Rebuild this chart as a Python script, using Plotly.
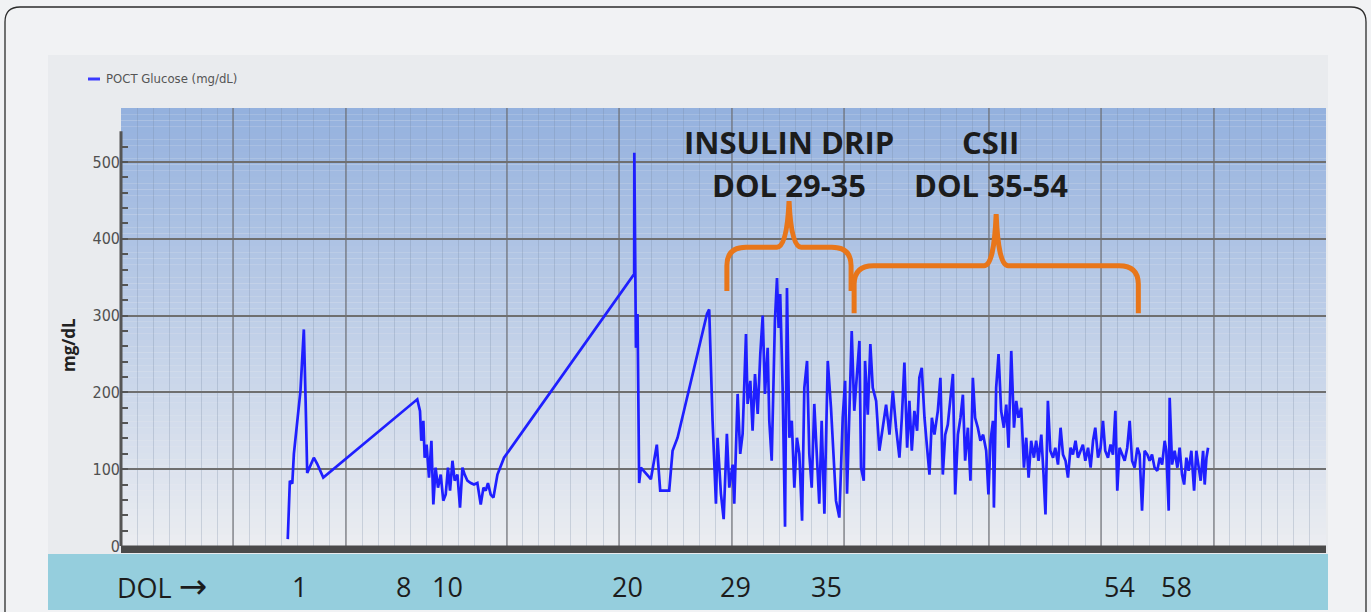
import plotly.graph_objects as go
from datetime import datetime, timedelta

# ---------------- data ----------------
BASE = datetime(2018, 8, 15)   # day offsets below are relative to this date

t_days = [
    3.38, 3.51, 3.66, 3.76, 4.17, 4.38, 4.49, 4.59, 5.00, 5.21, 5.59,
    11.44, 11.61, 11.69, 11.82, 11.90, 12.02, 12.17, 12.32, 12.44, 12.58, 12.73,
    12.90, 13.06, 13.21, 13.35, 13.48, 13.63, 13.77, 13.94, 14.10, 14.25, 14.39,
    14.56, 14.77, 14.97, 15.18, 15.39, 15.56, 15.70, 15.84, 16.01, 16.18, 16.43, 16.84,
    24.94, 24.95, 25.00, 25.05, 25.15, 25.25, 25.36, 25.98, 26.35, 26.56, 27.12,
    27.33, 27.64, 29.47, 29.61,
    29.82, 30.03, 30.13, 30.34, 30.51, 30.71, 30.86, 31.07, 31.17, 31.38, 31.54,
    31.69, 31.90, 32.00, 32.17, 32.31, 32.46, 32.63, 32.79, 32.94, 33.08, 33.25,
    33.35, 33.50, 33.62, 33.70, 33.83, 33.93, 34.03, 34.18, 34.33, 34.45, 34.60,
    34.75, 34.91, 35.07, 35.22, 35.39, 35.53, 35.70, 35.84, 35.99, 36.15, 36.32,
    36.46, 36.61, 36.78, 36.99, 37.19, 37.50, 37.71, 37.92, 38.07, 38.19, 38.33,
    38.48, 38.64, 38.81, 38.96, 39.06, 39.23, 39.31, 39.48, 39.64, 39.79, 40.00,
    40.20, 40.41, 40.62, 40.83, 41.04, 41.24, 41.45, 41.60, 41.76, 41.93, 42.07,
    42.22, 42.38, 42.55, 42.69, 42.84, 43.01, 43.17, 43.32, 43.47, 43.63, 43.84,
    44.00, 44.15, 44.30, 44.46, 44.63, 44.78, 44.92, 45.09, 45.25, 45.40, 45.54,
    45.71, 45.87, 46.02, 46.16, 46.33, 46.49, 46.66, 46.85, 46.99, 47.12, 47.27,
    47.33, 47.47, 47.62, 47.78, 47.95, 48.10, 48.24, 48.41, 48.58, 48.72, 48.86,
    49.03, 49.20, 49.34, 49.49, 49.65, 49.82, 49.96, 50.11, 50.28, 50.42, 50.54,
    50.69, 50.84, 51.01, 51.15, 51.32, 51.48, 51.63, 51.79, 51.94, 52.10, 52.25,
    52.41, 52.56, 52.72, 52.87, 53.02, 53.19, 53.35, 53.50, 53.64, 53.81, 53.97,
    54.12, 54.26, 54.43, 54.59, 54.74, 54.89, 55.01, 55.15, 55.30, 55.47, 55.63,
    55.78, 55.93, 56.09, 56.26, 56.40, 56.55, 56.71, 56.88, 57.02, 57.17, 57.33,
    57.50, 57.65, 57.80, 57.96, 58.06, 58.21, 58.27, 58.42, 58.58, 58.75, 58.89,
    59.04, 59.17, 59.31, 59.45, 59.62, 59.79, 59.93, 60.08, 60.20, 60.35, 60.45,
    60.56, 60.66,
]

glucose = [
    9, 85, 81, 120, 202, 282, 189, 95, 115, 107, 89,
    191, 176, 137, 163, 115, 132, 89, 137, 54, 102, 76,
    93, 59, 67, 102, 72, 111, 85, 93, 50, 102, 93,
    85, 82, 80, 82, 54, 76, 72, 82, 67, 63, 93, 115,
    354, 512, 367, 258, 302, 82, 102, 87, 132, 72, 72,
    124, 141, 302, 308,
    163, 55, 141, 68, 35, 146, 76, 106, 55, 198, 120,
    146, 276, 185, 215, 150, 224, 172, 250, 300, 198, 258,
    163, 111, 250, 293, 349, 284, 328, 206, 25, 336, 141,
    163, 76, 141, 120, 33, 206, 241, 120, 76, 185, 120,
    55, 163, 42, 241, 180, 59, 37, 167, 215, 68, 180,
    280, 176, 232, 267, 102, 85, 241, 171, 263, 206, 189,
    124, 154, 184, 145, 202, 154, 115, 167, 239, 128, 189,
    124, 176, 150, 219, 232, 167, 128, 93, 167, 145, 176,
    219, 93, 145, 158, 189, 224, 67, 145, 167, 197, 111,
    154, 85, 219, 167, 154, 137, 145, 124, 67, 137, 163,
    50, 206, 250, 176, 154, 184, 128, 254, 154, 189, 167,
    180, 102, 141, 89, 137, 115, 137, 111, 145, 93, 41,
    189, 124, 115, 128, 106, 154, 119, 111, 89, 128, 119,
    137, 115, 124, 132, 111, 128, 102, 137, 154, 115, 128,
    163, 124, 115, 132, 119, 176, 72, 128, 119, 111, 128,
    163, 111, 102, 128, 119, 46, 124, 119, 111, 119, 102,
    98, 115, 106, 137, 124, 46, 193, 106, 124, 102, 128,
    93, 80, 115, 98, 124, 72, 124, 102, 85, 124, 80,
    115, 128,
]

series_name = "POCT Glucose (mg/dL)"
y_ticks = [0, 100, 200, 300, 400, 500]
y_minor_ticks = [v for v in range(20, 540, 20) if v % 100]
major_grid_days = [0, 7, 17, 24, 31, 38, 47, 54, 61]   # Aug15, Aug22, Sep1, ... Oct15

# bottom-strip DOL labels (hand-placed in the original) and their day positions
dol_labels = ["1", "8", "10", "20", "29", "35", "54", "58"]
dol_label_days = [4.11, 10.59, 13.33, 24.55, 31.27, 36.88, 55.14, 58.69]

# bracket annotations: (text line 1, text line 2, centre day)
insulin_text = ("INSULIN DRIP", "DOL 29-35", 34.58)
csii_text = ("CSII", "DOL 35-54", 47.12)

# ---------------- helpers ----------------
def day(d):
    return BASE + timedelta(days=d)

def dp(d):
    return day(d).strftime("%Y-%m-%d_%H:%M:%S")

W, H = 1371, 612
L, R, T, B = 121, 1326, 108, 547
YMIN, YMAX = -1.3, 570.3

def px(x):
    return (x - L) / (R - L)

def py(y):
    return (B - y) / (B - T)

shapes = []
# outer rounded frame
shapes.append(dict(
    type="path", xref="paper", yref="paper", layer="below",
    path=(f"M {px(5)},{py(640)} L {px(5)},{py(22)} Q {px(5)},{py(7)} {px(20)},{py(7)} "
          f"L {px(1351)},{py(7)} Q {px(1366)},{py(7)} {px(1366)},{py(22)} L {px(1366)},{py(640)}"),
    line=dict(color="#2b2b2b", width=1.3), fillcolor="#f1f2f4"))
# inner chart panel
shapes.append(dict(type="rect", xref="paper", yref="paper", layer="below",
                   x0=px(48), x1=px(1328), y0=py(555), y1=py(55),
                   fillcolor="#e9ebee", line=dict(width=0)))
# gradient plot background
N = 70
top = (148, 177, 222)
bot = (235, 237, 241)
for i in range(N):
    f = i / (N - 1)
    c = tuple(int(round(top[k] + (bot[k] - top[k]) * f)) for k in range(3))
    shapes.append(dict(type="rect", xref="paper", yref="paper", layer="below",
                       x0=0, x1=1, y0=1 - (i + 1) / N, y1=1 - i / N,
                       fillcolor=f"rgb{c}", line=dict(width=0)))
# teal DOL strip
shapes.append(dict(type="rect", xref="paper", yref="paper", layer="below",
                   x0=px(48), x1=px(1328), y0=py(610), y1=py(554),
                   fillcolor="#95cedd", line=dict(width=0)))
# thick bottom axis bar
shapes.append(dict(type="rect", xref="paper", yref="paper", layer="above",
                   x0=0, x1=1, y0=py(553), y1=py(545.5),
                   fillcolor="#4a4a4a", line=dict(width=0)))
# y axis line
shapes.append(dict(type="line", xref="paper", yref="y", layer="above",
                   x0=0, x1=0, y0=0, y1=540, line=dict(color="#555555", width=3)))
# legend swatch
shapes.append(dict(type="line", xref="paper", yref="paper",
                   x0=px(88), x1=px(100), y0=py(79), y1=py(79),
                   line=dict(color="#3a3aff", width=3)))

# curly braces (in data units: day, mg/dL)
orange = "#e8761a"
def brace(x0, xm, x1, yb, yh, ypk):
    return (f"M {dp(x0)},{yb} L {dp(x0)},{yh - 24} Q {dp(x0)},{yh} {dp(x0 + 1.2)},{yh} "
            f"L {dp(xm - 0.75)},{yh} Q {dp(xm - 0.13)},{yh} {dp(xm)},{ypk} "
            f"Q {dp(xm + 0.13)},{yh} {dp(xm + 0.75)},{yh} "
            f"L {dp(x1 - 1.2)},{yh} Q {dp(x1)},{yh} {dp(x1)},{yh - 24} L {dp(x1)},{yb}")

shapes.append(dict(type="path", xref="x", yref="y", layer="above",
                   path=brace(30.71, 34.58, 38.44, 332, 389, 449),
                   line=dict(color=orange, width=5)))
shapes.append(dict(type="path", xref="x", yref="y", layer="above",
                   path=brace(38.63, 47.47, 56.32, 303, 365, 432),
                   line=dict(color=orange, width=5)))

fig = go.Figure()
fig.add_trace(go.Scatter(
    x=[day(d) for d in t_days], y=glucose, mode="lines", name=series_name,
    line=dict(color="#1f1fff", width=2.7), showlegend=False))

narrow = "Liberation Sans Narrow, Arial Narrow, DejaVu Sans Condensed, sans-serif"
bold_font = dict(family="Open Sans, Noto Sans, sans-serif", size=31, color="#1c1c1c", weight="bold")
strip_font = dict(family="Open Sans, Noto Sans, sans-serif", size=27, color="#1c1c1c")

annotations = [
    dict(xref="paper", yref="paper", x=px(104), y=py(79), xanchor="left", yanchor="middle",
         text=series_name, showarrow=False,
         font=dict(family=narrow, size=13, color="#555555")),
    dict(xref="paper", yref="paper", x=px(68), y=py(345), xanchor="center", yanchor="middle",
         text="<b>mg/dL</b>", textangle=-90, showarrow=False,
         font=dict(family="Open Sans, sans-serif", size=17, color="#222222")),
    dict(xref="paper", yref="paper", x=px(162), y=py(586), xanchor="center", yanchor="middle",
         text="DOL <span style='font-family:DejaVu Sans;font-size:34px'>\u2192</span>",
         showarrow=False, font=strip_font),
]
for lab, d in zip(dol_labels, dol_label_days):
    annotations.append(dict(xref="x", yref="paper", x=day(d), y=py(586),
                            xanchor="center", yanchor="middle", text=lab,
                            showarrow=False, font=strip_font))
for l1, l2, d in (insulin_text, csii_text):
    annotations.append(dict(xref="x", yref="y", x=day(d), y=526, xanchor="center",
                            yanchor="middle", text=l1, showarrow=False, font=bold_font))
    annotations.append(dict(xref="x", yref="y", x=day(d), y=470, xanchor="center",
                            yanchor="middle", text=l2, showarrow=False, font=bold_font))

fig.update_layout(
    width=W, height=H,
    margin=dict(l=L, r=W - R, t=T, b=H - B, pad=0),
    paper_bgcolor="#f1f2f4",
    plot_bgcolor="rgba(0,0,0,0)",
    shapes=shapes,
    annotations=annotations,
    showlegend=False,
    xaxis=dict(
        type="date",
        range=[day(-7), day(68)],
        tickvals=[day(d) for d in major_grid_days],
        showticklabels=False, ticks="",
        showgrid=True, gridcolor="rgba(105,105,110,0.55)", gridwidth=2,
        zeroline=False, showline=False,
        minor=dict(dtick=86400000, tick0=day(-7), showgrid=True,
                   gridcolor="rgba(120,135,160,0.28)", gridwidth=1, ticks=""),
        fixedrange=True,
    ),
    yaxis=dict(
        range=[YMIN, YMAX],
        tickvals=y_ticks, ticktext=[str(v) for v in y_ticks],
        ticks="inside", ticklen=7, tickwidth=2, tickcolor="#555555",
        showgrid=True, gridcolor="#6f6f6f", gridwidth=2,
        zeroline=False, showline=False,
        tickfont=dict(family=narrow, size=16, color="#505050"),
        minor=dict(tickvals=y_minor_ticks, ticks="inside", ticklen=7, tickwidth=1.5,
                   tickcolor="#555555", showgrid=False),
        fixedrange=True,
    ),
)

fig.write_html("out.html", config={"displayModeBar": False},
               post_script="document.body.style.margin='0px';document.body.style.overflow='hidden';")
